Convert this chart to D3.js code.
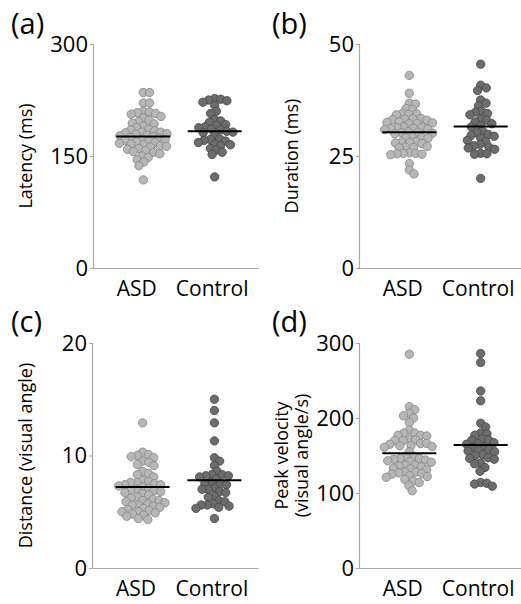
<!DOCTYPE html>
<html>
<head>
<meta charset="utf-8">
<script src="https://cdn.jsdelivr.net/npm/d3@7"></script>
<style>
  body { margin: 0; background: #fff; }
  svg { display: block; }
  text { font-family: "Open Sans", sans-serif; fill: #000; }
</style>
</head>
<body>
<svg id="chart" width="521" height="604"></svg>
<script>
// ---------- DATA ----------
const categories = ["ASD", "Control"];

const latencyASD = [235, 235, 221, 221, 210, 209, 208, 207, 206, 203, 201, 198, 196, 194, 193, 190, 188, 186, 185, 184, 182, 182, 181, 180, 179, 178, 177, 176, 175, 174, 173, 172, 171, 170, 169, 168, 167, 166, 165, 164, 163, 162, 160, 159, 157, 156, 155, 153, 150, 148, 145, 142, 137, 118];
const latencyControl = [227, 226, 225, 224, 222, 218, 210, 207, 199, 197, 195, 192, 191, 189, 188, 186, 185, 183, 182, 181, 178, 173, 172, 171, 170, 168, 166, 165, 164, 160, 158, 155, 152, 122];
const latencyMeans = [176, 183];
const latencyTicks = [0, 150, 300];

const durationASD = [43, 39, 36.8, 36.6, 35.6, 35.4, 34.5, 34.4, 34.3, 34.2, 33.4, 33.3, 33.2, 33.1, 33.0, 32.6, 32.5, 32.4, 32.3, 32.2, 31.5, 31.4, 31.3, 31.2, 31.1, 31.0, 30.9, 30.4, 30.3, 30.2, 30.1, 30.0, 29.3, 29.2, 29.1, 29.0, 28.2, 28.1, 28.0, 27.9, 27.8, 27.1, 27.0, 26.9, 26.8, 25.7, 25.6, 25.6, 25.5, 25.4, 25.3, 23.3, 21.9, 21.0];
const durationControl = [45.5, 40.8, 40.2, 39.6, 37.5, 36.8, 36.2, 35.0, 34.8, 34.5, 34.2, 33.2, 33.0, 32.6, 32.2, 31.8, 31.5, 30.5, 30.2, 29.8, 29.6, 29.4, 29.0, 28.5, 28.2, 27.6, 27.3, 27.0, 26.8, 26.5, 25.6, 25.5, 25.4, 20.0];
const durationMeans = [30.3, 31.6];
const durationTicks = [0, 25, 50];

const distanceASD = [12.9, 10.3, 10.1, 10.0, 9.9, 9.8, 9.5, 9.4, 9.2, 9.1, 8.6, 8.4, 8.3, 8.1, 7.8, 7.7, 7.6, 7.6, 7.5, 7.4, 7.4, 7.3, 7.2, 7.1, 7.0, 6.9, 6.9, 6.8, 6.7, 6.6, 6.5, 6.3, 6.2, 6.1, 6.0, 6.0, 5.9, 5.8, 5.7, 5.6, 5.6, 5.5, 5.4, 5.3, 5.2, 5.1, 5.0, 5.0, 4.9, 4.8, 4.7, 4.6, 4.4, 4.3];
const distanceControl = [15.0, 14.0, 12.9, 11.3, 9.8, 9.5, 9.1, 8.6, 8.3, 8.3, 8.2, 8.2, 8.1, 7.9, 7.6, 7.5, 7.5, 7.4, 7.1, 7.0, 7.0, 6.8, 6.7, 6.4, 6.3, 6.0, 5.9, 5.7, 5.6, 5.6, 5.5, 5.4, 5.3, 4.4];
const distanceMeans = [7.2, 7.8];
const distanceTicks = [0, 10, 20];

const velocityASD = [285, 215, 211, 206, 203, 200, 194, 184, 180, 180, 177, 177, 176, 171, 171, 170, 170, 166, 166, 165, 163, 163, 162, 161, 155, 149, 148, 146, 146, 145, 144, 143, 142, 141, 137, 137, 136, 135, 133, 132, 131, 128, 128, 127, 126, 125, 123, 122, 121, 118, 116, 114, 110, 103];
const velocityControl = [286, 274, 236, 223, 193, 188, 180, 179, 177, 172, 171, 170, 167, 166, 165, 162, 161, 158, 157, 156, 155, 151, 150, 147, 146, 145, 140, 139, 134, 129, 114, 113, 112, 109];
const velocityMeans = [153, 164];
const velocityTicks = [0, 100, 200, 300];

const panelLetters = ["(a)", "(b)", "(c)", "(d)"];
const yTitles = [["Latency (ms)"], ["Duration (ms)"], ["Distance (visual angle)"], ["Peak velocity", "(visual angle/s)"]];

// ---------- LAYOUT ----------
const svg = d3.select("#chart");
const colors = {
  ASD: { fill: "#b6b6b6", stroke: "#858585" },
  Control: { fill: "#6c6c6c", stroke: "#484848" }
};
const R = 4.2;

const panels = [
  { letter: panelLetters[0], title: yTitles[0], groups: [latencyASD, latencyControl], means: latencyMeans, ticks: latencyTicks,
    x0: 93, x1: 258, yTop: 44, yBot: 268, titleX: 25, letterX: 11, letterY: 34 },
  { letter: panelLetters[1], title: yTitles[1], groups: [durationASD, durationControl], means: durationMeans, ticks: durationTicks,
    x0: 359, x1: 524, yTop: 44, yBot: 268, titleX: 291, letterX: 272, letterY: 34 },
  { letter: panelLetters[2], title: yTitles[2], groups: [distanceASD, distanceControl], means: distanceMeans, ticks: distanceTicks,
    x0: 92, x1: 258, yTop: 343, yBot: 568, titleX: 25, letterX: 11, letterY: 332 },
  { letter: panelLetters[3], title: yTitles[3], groups: [velocityASD, velocityControl], means: velocityMeans, ticks: velocityTicks,
    x0: 359, x1: 524, yTop: 343, yBot: 568, titleX: 291, letterX: 272, letterY: 332 }
];

function dodge(values, y, r) {
  const d = 2 * r * 0.74;
  const placed = [];
  const order = values.map((v, i) => i).sort((a, b) => values[b] - values[a]);
  const out = new Array(values.length);
  for (const i of order) {
    const cy = y(values[i]);
    const cands = [0];
    for (const p of placed) {
      const dy = cy - p.y;
      if (Math.abs(dy) < d) {
        const dx = Math.sqrt(d * d - dy * dy);
        cands.push(p.x + dx, p.x - dx);
      }
    }
    cands.sort((a, b) => Math.abs(a) - Math.abs(b));
    for (const c of cands) {
      if (placed.every(p => (p.x - c) ** 2 + (p.y - cy) ** 2 >= d * d - 1e-6)) {
        placed.push({ x: c, y: cy });
        out[i] = { v: values[i], dx: c, y: cy };
        break;
      }
    }
  }
  return out;
}

panels.forEach(p => {
  const maxT = d3.max(p.ticks);
  const y = d3.scaleLinear().domain([0, maxT]).range([p.yBot, p.yTop]);
  const x = d3.scalePoint().domain(categories).range([p.x0, p.x1]).padding(0.64);
  const g = svg.append("g");

  // y axis
  const yAxis = d3.axisLeft(y).tickValues(p.ticks).tickSize(3).tickPadding(2).tickFormat(d3.format("d"));
  const ya = g.append("g").attr("transform", `translate(${p.x0},0)`).call(yAxis);
  ya.select(".domain").attr("stroke", "#a8a8a8").attr("stroke-width", 1.2);
  ya.selectAll(".tick line").attr("stroke", "#a8a8a8");
  ya.selectAll(".tick text").style("font-size", "22px").style("font-family", "'Open Sans', sans-serif").attr("fill", "#000");

  // x axis
  const xAxis = d3.axisBottom(x).tickSize(0).tickPadding(13);
  const xa = g.append("g").attr("transform", `translate(0,${p.yBot})`).call(xAxis);
  xa.select(".domain").attr("stroke", "#a8a8a8").attr("stroke-width", 1.2);
  xa.selectAll(".tick text").style("font-size", "21px").style("font-family", "'Open Sans', sans-serif").attr("fill", "#000")
    .attr("dx", (d, i) => i === 0 ? -3 : 0);

  // dots
  categories.forEach((cat, ci) => {
    const pts = dodge(p.groups[ci], y, R);
    const cx = x(cat) + (ci === 0 ? 4 : 3);
    g.append("g").selectAll("circle").data(pts).join("circle")
      .attr("cx", d => cx + d.dx)
      .attr("cy", d => d.y)
      .attr("r", R)
      .attr("fill", colors[cat].fill)
      .attr("stroke", colors[cat].stroke)
      .attr("stroke-width", 0.8);
    g.append("line")
      .attr("x1", cx - 27).attr("x2", cx + 27)
      .attr("y1", y(p.means[ci])).attr("y2", y(p.means[ci]))
      .attr("stroke", "#000").attr("stroke-width", 2);
  });

  // y title
  const midY = (p.yTop + p.yBot) / 2;
  const n = p.title.length;
  p.title.forEach((t, ti) => {
    const tx = p.titleX + (ti - (n - 1) / 2) * 20;
    g.append("text")
      .attr("transform", `translate(${tx},${midY}) rotate(-90)`)
      .attr("text-anchor", "middle")
      .attr("dominant-baseline", "central")
      .style("font-size", "18px")
      .text(t);
  });

  // panel letter
  g.append("text").attr("x", p.letterX).attr("y", p.letterY)
    .style("font-size", "29px").text(p.letter);
});
</script>
</body>
</html>
